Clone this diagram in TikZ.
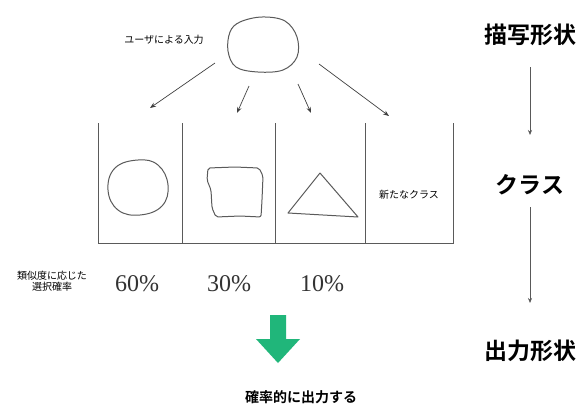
\documentclass[tikz,border=0pt]{standalone}
\usepackage{fontspec}
\setmainfont{Liberation Serif}
\newfontfamily\jp{Noto Sans CJK JP}
\newfontfamily\jpb{Noto Sans CJK JP Bold}
\usetikzlibrary{arrows.meta,shapes.geometric}
\definecolor{linegray}{RGB}{90,90,90}
\definecolor{arrowgreen}{RGB}{32,182,122}
\begin{document}
\begin{tikzpicture}[x=1pt,y=-1pt,
  thinline/.style={draw=linegray,line width=0.9pt},
  sketch/.style={draw=linegray,line width=1pt,line join=round},
  conn/.style={draw=black!75,line width=0.7pt,-{Stealth[length=6pt,width=4.5pt]}},
  sidearrow/.style={draw=black!65,line width=0.6pt,-{Stealth[length=5pt,width=4pt]}},
  smalljp/.style={font=\jp\fontsize{10}{11}\selectfont,inner sep=0pt},
  sidelabel/.style={font=\jpb\fontsize{23}{26}\selectfont,inner sep=0pt},
  pct/.style={font=\fontsize{24}{26}\selectfont,inner sep=0pt,text=black!80}]
\useasboundingbox (0,0) rectangle (587,410);
\fill[white] (0,0) rectangle (587,410);

% user input label and blob
\node[smalljp] (userlbl) at (164,40) {ユーザによる入力};
\draw[sketch] plot[smooth cycle,tension=0.6] coordinates {(240,22) (262,17) (285,21) (297,37) (297,57) (283,70) (258,72) (236,67) (228,51) (230,32)};
\node[draw=none,minimum width=70pt,minimum height=55pt,ellipse,inner sep=0pt] (blob) at (262,44) {};

% arrow endpoints
\coordinate (s1) at (215,63);
\coordinate (s2) at (249,86);
\coordinate (s3) at (298,84);
\coordinate (s4) at (319,64);
\coordinate (e1) at (150,108);
\coordinate (e2) at (237,113);
\coordinate (e3) at (311,113);
\coordinate (e4) at (389,116);
\draw[conn] (s1) -- (e1);
\draw[conn] (s2) -- (e2);
\draw[conn] (s3) -- (e3);
\draw[conn] (s4) -- (e4);

% bins
\coordinate (b0t) at (98,123);  \coordinate (b0b) at (98,243);
\coordinate (b1t) at (182,123); \coordinate (b1b) at (182,243);
\coordinate (b2t) at (275,123); \coordinate (b2b) at (275,243);
\coordinate (b3t) at (365,123); \coordinate (b3b) at (365,243);
\coordinate (b4t) at (453,123); \coordinate (b4b) at (453,243);
\draw[thinline] (b0t) -- (b0b) -- (b4b) -- (b4t);
\draw[thinline] (b1t) -- (b1b);
\draw[thinline] (b2t) -- (b2b);
\draw[thinline] (b3t) -- (b3b);

% shapes in bins
\draw[sketch] plot[smooth cycle,tension=0.7] coordinates {(138,160) (158,165) (168,185) (162,206) (140,215) (118,210) (108,190) (115,168)};
\draw[sketch,rounded corners=2pt] (208,168) -- (235,167) -- (259,168) -- (263,176) -- (262,200) -- (261,217) -- (240,216) -- (216,217) -- (212,208) -- (211,190) -- (207,180) -- cycle;
\draw[sketch] (288,213) -- (320,173) -- (358,217) -- cycle;
\node[smalljp] (newcls) at (409,195) {新たなクラス};

% probability labels
\node[smalljp,align=center] (simlbl) at (52,281) {類似度に応じた\\選択確率};
\node[pct] (p60) at (137,284) {60\%};
\node[pct] (p30) at (229,284) {30\%};
\node[pct] (p10) at (322,284) {10\%};

% green arrow
\fill[arrowgreen] (270,315) -- (286,315) -- (286,339) -- (300,339) -- (278,363) -- (256,339) -- (270,339) -- cycle;
\node[font=\jpb\fontsize{14}{16}\selectfont,inner sep=0pt] (outlbl) at (301,397) {確率的に出力する};

% right column
\node[sidelabel] (drawshape) at (530,35) {描写形状};
\node[sidelabel] (cls) at (530,185) {クラス};
\node[sidelabel] (outshape) at (530,351) {出力形状};
\coordinate (r1s) at (530,67);  \coordinate (r1e) at (530,135);
\coordinate (r2s) at (530,207); \coordinate (r2e) at (530,303);
\draw[sidearrow] (r1s) -- (r1e);
\draw[sidearrow] (r2s) -- (r2e);
\end{tikzpicture}
\end{document}
